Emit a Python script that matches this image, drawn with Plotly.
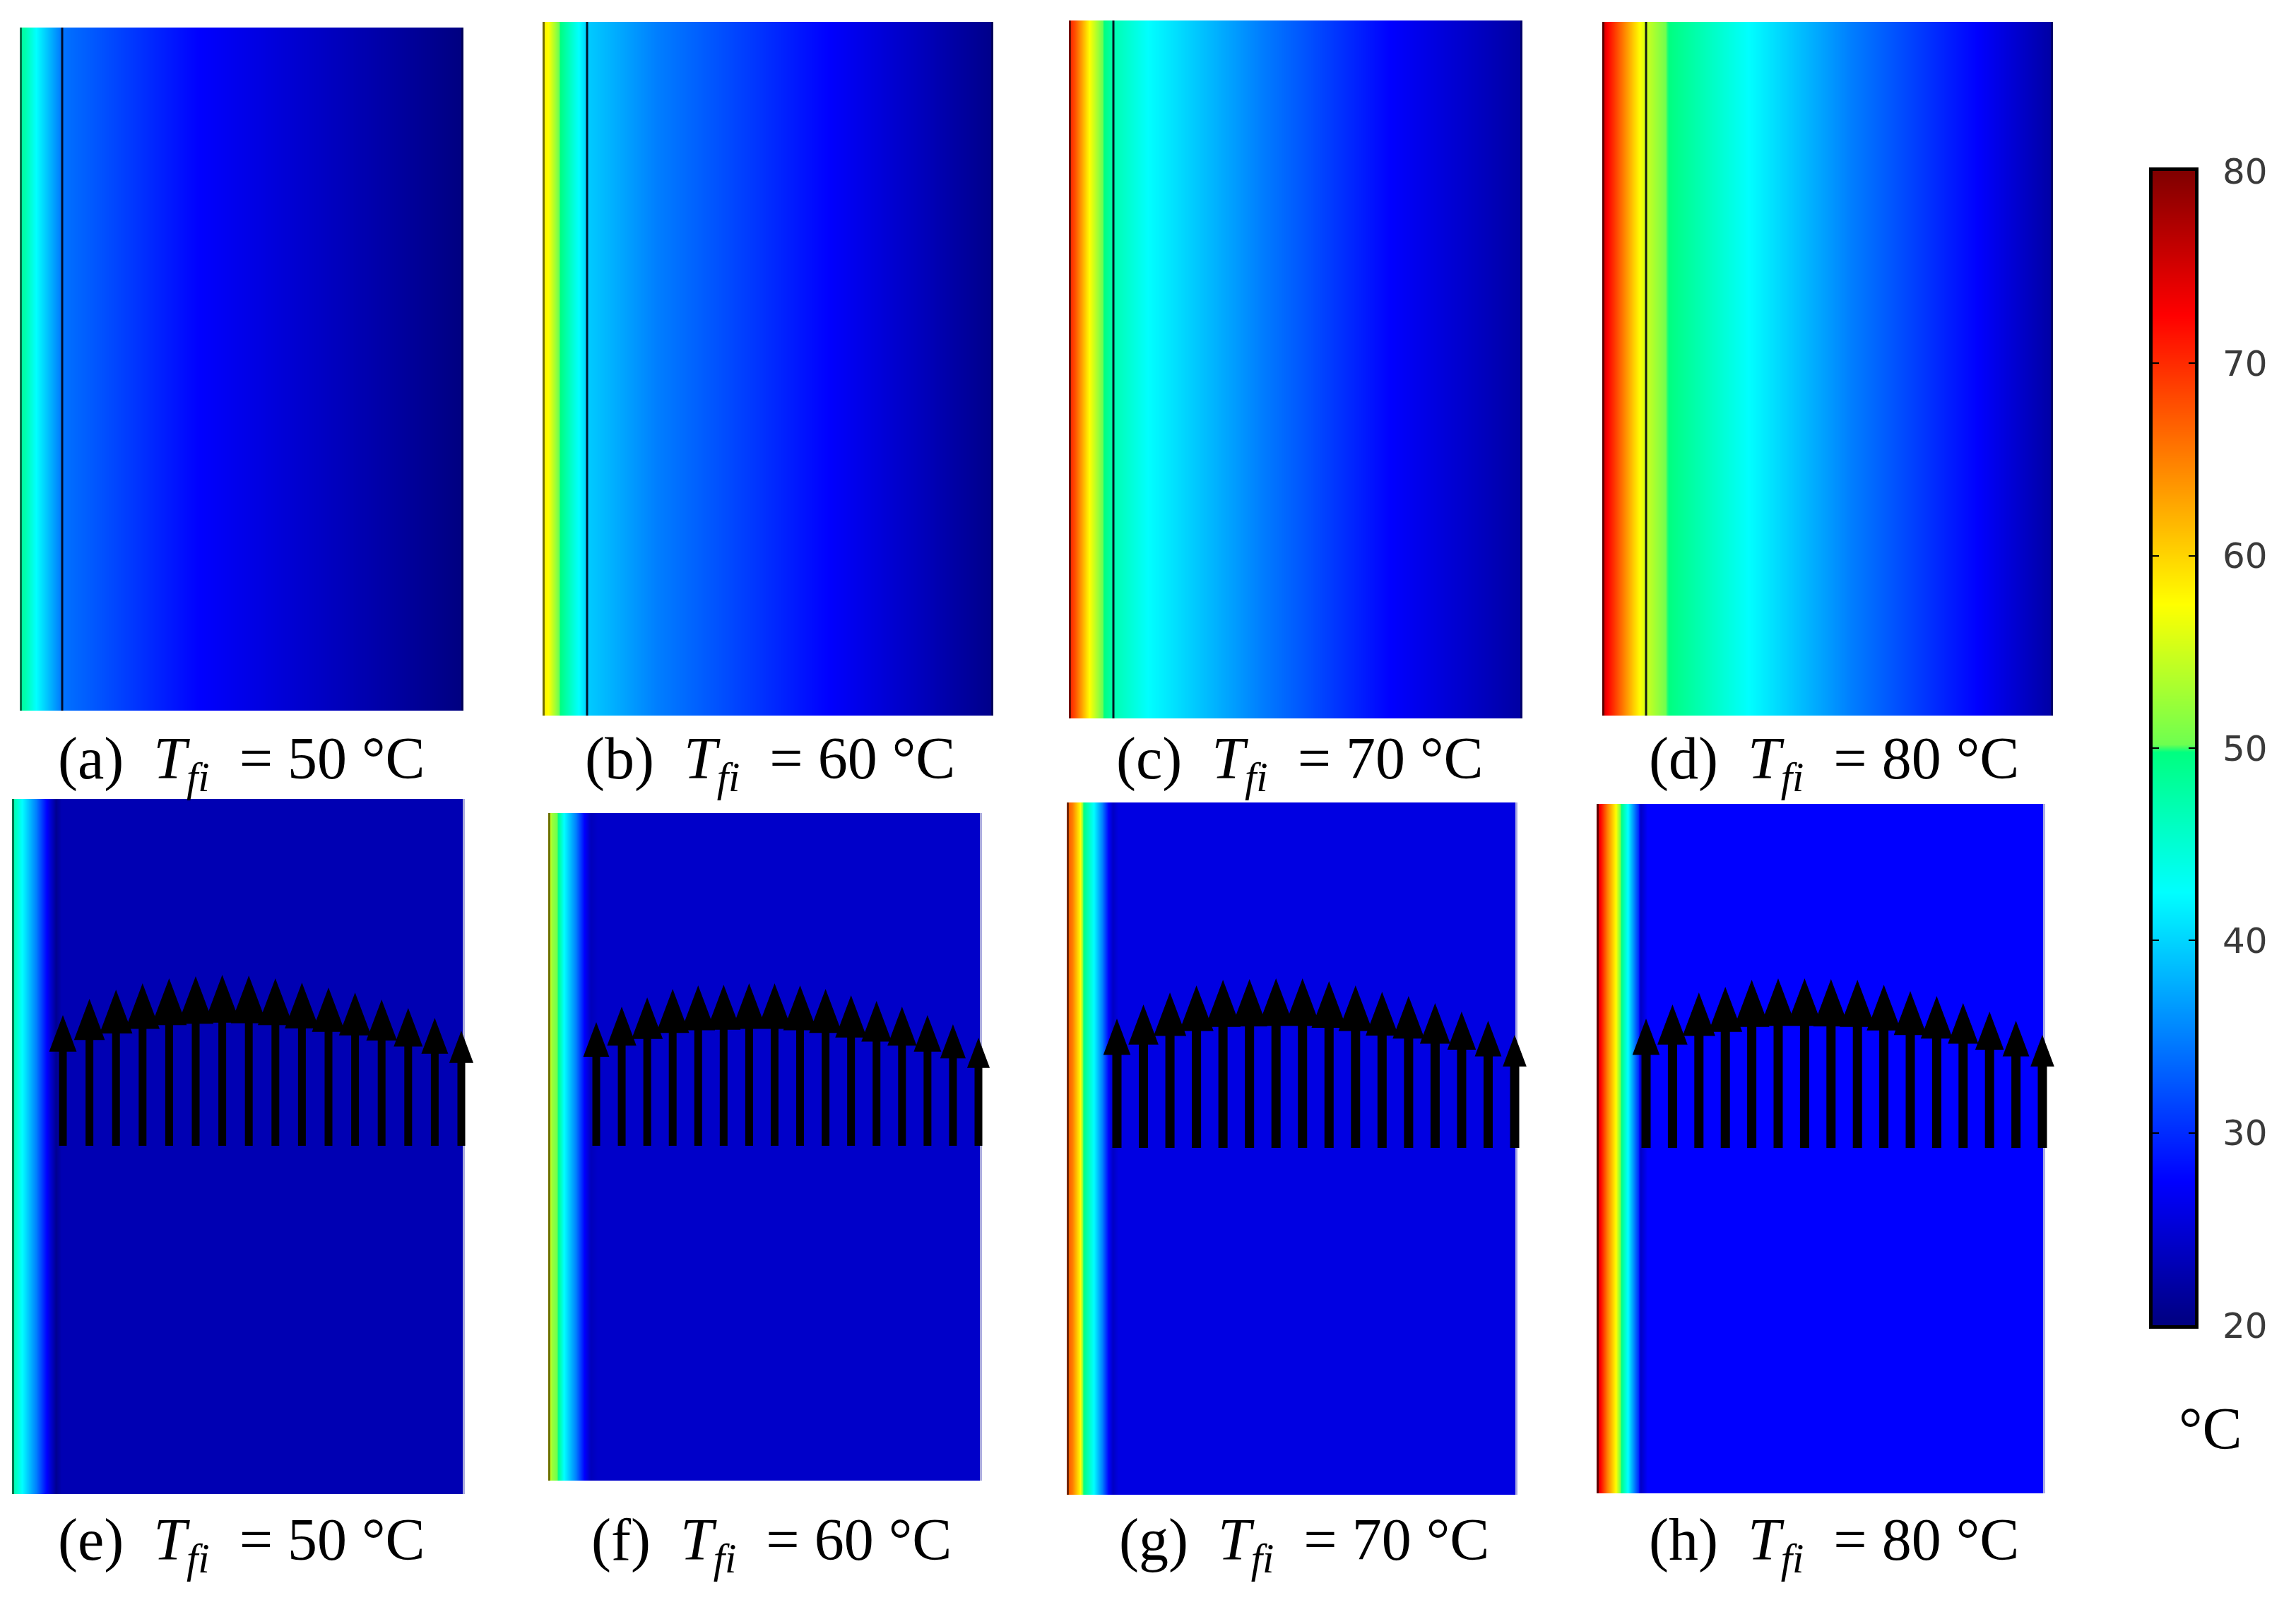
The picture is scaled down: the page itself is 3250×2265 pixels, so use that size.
import numpy as np
import plotly.graph_objects as go

W, H = 3250, 2265
PANEL_IDS = list("abcdefgh")
CAPTION_T = [50, 60, 70, 80, 50, 60, 70, 80]

# panel boxes in picture pixels: left, right, top, bottom
BOX_A = [28, 656, 39, 1006]
BOX_B = [768, 1406, 31, 1013]
BOX_C = [1513, 2155, 29, 1017]
BOX_D = [2268, 2906, 31, 1013]
BOX_E = [17, 658, 1131, 2115]
BOX_F = [776, 1390, 1151, 2096]
BOX_G = [1510, 2148, 1136, 2116]
BOX_H = [2260, 2895, 1138, 2114]
BOXES = [BOX_A, BOX_B, BOX_C, BOX_D, BOX_E, BOX_F, BOX_G, BOX_H]

# temperature profiles read across each panel: distance from left edge, temperature in degC
DIST_A = [0, 6, 23, 59, 66, 253, 628]
TEMP_A = [48, 47.5, 42.5, 34.5, 34, 27.5, 20]
DIST_B = [0, 8, 22, 51, 63, 160, 404, 638]
TEMP_B = [58.5, 57.5, 50.5, 42.5, 39.5, 35, 27.5, 20.5]
DIST_C = [0, 8, 29, 46, 63, 112, 270, 455, 642]
TEMP_C = [71, 68, 57.5, 50.5, 47, 42.5, 35, 27.5, 22]
DIST_D = [0, 7, 30, 53, 62, 91, 207, 350, 531, 638]
TEMP_D = [76, 72.5, 65, 57.5, 55, 50, 42.5, 35, 27.5, 22]
DIST_E = [0, 14, 34, 49, 62, 70, 641]
TEMP_E = [48, 42.5, 35, 27.5, 21, 23, 23]
DIST_F = [0, 5, 13, 22, 39, 51, 60, 70, 614]
TEMP_F = [57.5, 52.5, 50, 42.5, 35, 27.5, 23.5, 24.3, 24.3]
DIST_G = [0, 8, 19, 23, 38, 50, 59, 65, 73, 638]
TEMP_G = [68, 65, 57.5, 50, 42.5, 35, 27.5, 24, 25.8, 25.8]
DIST_H = [0, 5, 15, 27, 34, 44, 53, 59, 62, 72, 635]
TEMP_H = [76, 72.5, 65, 57.5, 50, 42.5, 35, 30, 24, 27.5, 27.5]
DISTS = [DIST_A, DIST_B, DIST_C, DIST_D, DIST_E, DIST_F, DIST_G, DIST_H]
TEMPS = [TEMP_A, TEMP_B, TEMP_C, TEMP_D, TEMP_E, TEMP_F, TEMP_G, TEMP_H]

# wall line (upper row only), distance from left edge
WALLS = [60, 63, 63, 62, None, None, None, None]

# arrow lengths, lower row
ARROW_E = [185, 208, 221, 230, 237, 240, 242, 241, 237, 231, 224, 217, 207, 195, 181, 163]
ARROW_F = [175, 197, 210, 222, 227, 228, 230, 230, 227, 222, 213, 205, 197, 185, 172, 153]
ARROW_G = [183, 203, 220, 230, 238, 239, 240, 240, 236, 230, 221, 215, 205, 193, 180, 160]
ARROW_H = [183, 203, 220, 228, 238, 240, 240, 239, 238, 231, 222, 215, 205, 193, 180, 160]
ARROWS = [None, None, None, None, ARROW_E, ARROW_F, ARROW_G, ARROW_H]
ARROW_FIRST = [None, None, None, None, 89, 844, 1581, 2330]
ARROW_LAST = [None, None, None, None, 653, 1385, 2144, 2891]
ARROW_BASE_Y = [None, None, None, None, 1622, 1622, 1625, 1625]
SHAFT = [None, None, None, None, 11, 11, 13, 13]
HEAD_RATIO = 0.21
OVERHANG = 30

# caption left edges
CAPTION_X = [80, 826, 1578, 2332, 80, 835, 1582, 2332]
CAPTION_Y = [1080, 1080, 1080, 1080, 2186, 2186, 2186, 2186]

# colour scale
T_MIN, T_MAX = 20, 80
CS_T = [20, 27.5, 42.5, 49.8, 50.2, 57.5, 72.5, 80]
CS_C = ["rgb(0,0,128)", "rgb(0,0,255)", "rgb(0,255,255)", "rgb(0,255,128)",
        "rgb(110,255,80)", "rgb(255,255,0)", "rgb(255,0,0)", "rgb(128,0,0)"]
TICKS = [20, 30, 40, 50, 60, 70, 80]
CBAR_BOX = [3047, 3107, 242, 1876]

colorscale = [[(t - T_MIN) / (T_MAX - T_MIN), c] for t, c in zip(CS_T, CS_C)]

fig = go.Figure()
layout = {}


def dom(box):
    l, r, t, b = box
    return [l / W, r / W], [1 - b / H, 1 - t / H]


for i, pid in enumerate(PANEL_IDS):
    n = i + 1
    box = BOXES[i]
    w, h = box[1] - box[0], box[3] - box[2]
    dx, dy = dom(box)
    sfx = "" if n == 1 else str(n)
    layout[f"xaxis{sfx}"] = dict(domain=dx, range=[0, w], visible=False, fixedrange=True, anchor=f"y{sfx}")
    layout[f"yaxis{sfx}"] = dict(domain=dy, range=[0, h], visible=False, fixedrange=True, anchor=f"x{sfx}")
    xa, ya = f"x{sfx}", f"y{sfx}"
    fig.add_trace(go.Heatmap(x=DISTS[i], y=[0, h], z=[TEMPS[i], TEMPS[i]], coloraxis="coloraxis",
                             zsmooth="best", xaxis=xa, yaxis=ya, hoverinfo="skip"))
    # darkened outer edge of the section
    fig.add_trace(go.Scatter(x=[1.5, 1.5], y=[0, h], mode="lines", xaxis=xa, yaxis=ya, hoverinfo="skip",
                             line=dict(color="rgba(0,0,0,0.55)", width=3), showlegend=False))
    edge = "rgba(0,0,40,0.45)" if i < 4 else "rgba(190,190,225,0.9)"
    fig.add_trace(go.Scatter(x=[w - 1.5, w - 1.5], y=[0, h], mode="lines", xaxis=xa, yaxis=ya, hoverinfo="skip",
                             line=dict(color=edge, width=3), showlegend=False))
    if WALLS[i] is not None:
        fig.add_trace(go.Scatter(x=[WALLS[i], WALLS[i]], y=[0, h], mode="lines", xaxis=xa, yaxis=ya,
                                 hoverinfo="skip", line=dict(color="rgba(0,0,20,0.9)", width=3), showlegend=False))
    if ARROWS[i] is not None:
        # arrows live on their own slightly wider subplot so the last head can overhang the section
        an = n + 5
        layout[f"xaxis{an}"] = dict(domain=[dx[0], dx[1] + OVERHANG / W], range=[0, w + OVERHANG], visible=False,
                                    fixedrange=True, anchor=f"y{an}")
        layout[f"yaxis{an}"] = dict(domain=dy, range=[0, h], visible=False, fixedrange=True, anchor=f"x{an}")
        xs = np.linspace(ARROW_FIRST[i], ARROW_LAST[i], len(ARROWS[i])) - box[0]
        base = box[3] - ARROW_BASE_Y[i]
        sw = SHAFT[i] / 2
        px, py = [], []
        for x0, L in zip(xs, ARROWS[i]):
            neck = base + L * 0.72
            hw = HEAD_RATIO * L / 2
            px += [x0 - sw, x0 - sw, x0 - hw, x0, x0 + hw, x0 + sw, x0 + sw, x0 - sw, None]
            py += [base, neck, neck, base + L, neck, neck, base, base, None]
        fig.add_trace(go.Scatter(x=px, y=py, mode="lines", fill="toself", fillcolor="black",
                                 line=dict(color="black", width=0), xaxis=f"x{an}", yaxis=f"y{an}", hoverinfo="skip",
                                 showlegend=False))

# colour bar as its own small subplot with mirrored inside ticks
cdx, cdy = dom(CBAR_BOX)
layout["xaxis9"] = dict(domain=cdx, range=[0, 1], anchor="y9", showticklabels=False, ticks="", automargin=False,
                        showline=True, linecolor="black", linewidth=5, mirror=True, fixedrange=True, showgrid=False,
                        zeroline=False)
layout["yaxis9"] = dict(domain=cdy, range=[20, 80], anchor="x9", side="right", tickvals=TICKS, automargin=False,
                        ticks="inside", ticklen=9, tickwidth=2, tickcolor="black", showline=True, linecolor="black",
                        linewidth=5, mirror="ticks", showgrid=False, zeroline=False, fixedrange=True,
                        ticklabelstandoff=24, tickfont=dict(family="DejaVu Sans", size=50, color="#3a3a3a"))
fig.add_trace(go.Heatmap(x=[0, 1], y=TICKS, z=[[t, t] for t in TICKS], coloraxis="coloraxis", zsmooth="best",
                         xaxis="x9", yaxis="y9", hoverinfo="skip"))

annos = []
for i, pid in enumerate(PANEL_IDS):
    txt = f"({pid})\u00a0\u00a0<i>T</i><sub><i>fi</i></sub>\u00a0\u00a0= {CAPTION_T[i]} °C"
    annos.append(dict(x=CAPTION_X[i] / W, y=1 - CAPTION_Y[i] / H, xref="paper", yref="paper", text=txt,
                      showarrow=False, xanchor="left", yanchor="middle",
                      font=dict(family="Liberation Serif", size=84, color="black")))
annos.append(dict(x=3129 / W, y=1 - 2022 / H, xref="paper", yref="paper", text="°C", showarrow=False,
                  xanchor="center", yanchor="middle", font=dict(family="Liberation Serif", size=84, color="black")))

fig.update_layout(width=W, height=H, margin=dict(l=0, r=0, t=0, b=0), paper_bgcolor="white",
                  plot_bgcolor="rgba(0,0,0,0)", showlegend=False, annotations=annos,
                  coloraxis=dict(colorscale=colorscale, cmin=T_MIN, cmax=T_MAX, showscale=False), **layout)
fig.write_html("out.html", post_script="document.body.style.margin='0';", config={"displayModeBar": False})
